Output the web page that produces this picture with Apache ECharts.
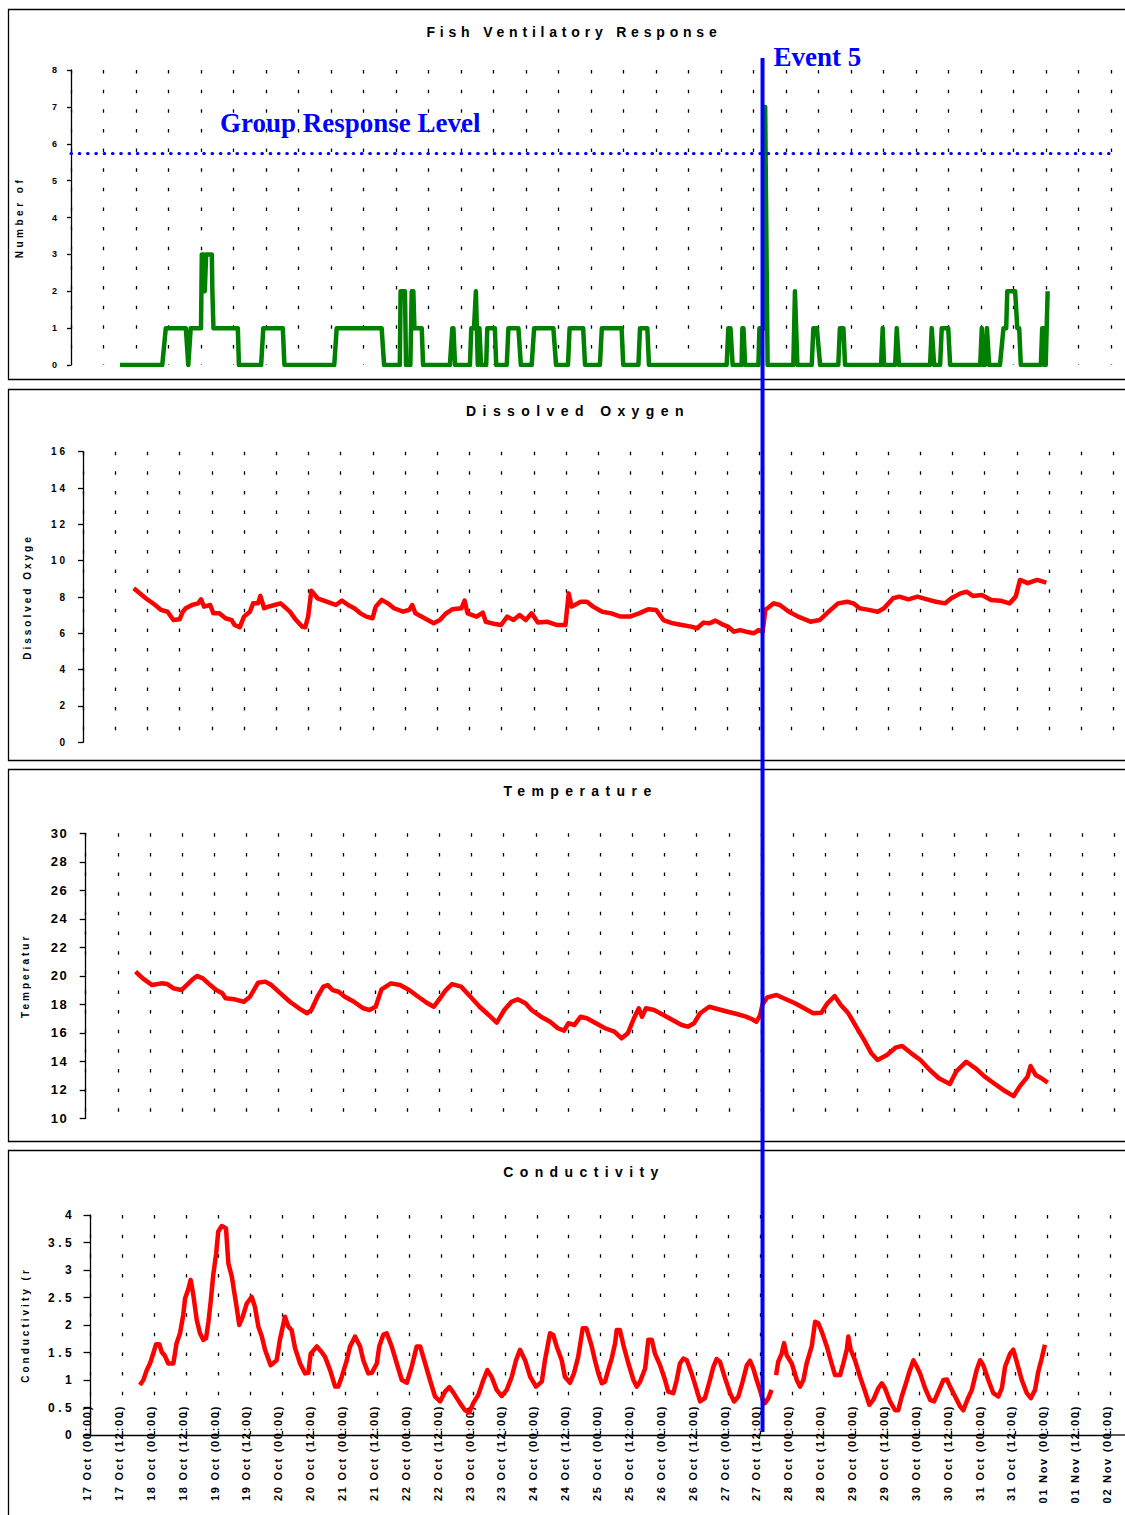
<!DOCTYPE html>
<html><head><meta charset="utf-8">
<script src="https://cdn.jsdelivr.net/npm/echarts@6/dist/echarts.min.js"></script>
<style>html,body{margin:0;padding:0;background:#fff;}#chart{width:1125px;height:1515px;}</style>
</head><body><div id="chart"></div>
<script>
// ---------------- DATA ----------------
const tickLabels = ['17 Oct (00:00)','17 Oct (12:00)','18 Oct (00:00)','18 Oct (12:00)','19 Oct (00:00)','19 Oct (12:00)',
 '20 Oct (00:00)','20 Oct (12:00)','21 Oct (00:00)','21 Oct (12:00)','22 Oct (00:00)','22 Oct (12:00)',
 '23 Oct (00:00)','23 Oct (12:00)','24 Oct (00:00)','24 Oct (12:00)','25 Oct (00:00)','25 Oct (12:00)',
 '26 Oct (00:00)','26 Oct (12:00)','27 Oct (00:00)','27 Oct (12:00)','28 Oct (00:00)','28 Oct (12:00)',
 '29 Oct (00:00)','29 Oct (12:00)','30 Oct (00:00)','30 Oct (12:00)','31 Oct (00:00)','31 Oct (12:00)',
 '01 Nov (00:00)','01 Nov (12:00)','02 Nov (00:00)'];
const panelTitles = ['Fish Ventilatory Response','Dissolved Oxygen','Temperature','Conductivity'];
const yAxisNames = ['Number of','Dissolved Oxyge','Temperatur','Conductivity (r'];
const groupLabel = 'Group Response Level';
const eventLabel = 'Event 5';
const groupResponseLevel = 5.75;
const eventHour = 253;   // hours after 17 Oct 00:00

// [hours after 17 Oct 00:00, value]
const fishResponse = [[18.1,0],[33.7,0],[35.0,1],[42.4,1],[43.3,0],[44.2,1],[48.0,1],[48.3,3],[49.0,3],[49.4,2],[49.9,3],[52.0,3],[52.2,2],[52.6,1],[61.6,1],[62.0,0],[70.2,0],[71.0,1],[78.2,1],[78.8,0],[97.2,0],[98.1,1],[114.7,1],[115.6,0],[121.4,0],[121.7,2],[123.3,2],[123.7,0],[125.3,0],[125.8,2],[126.4,2],[126.8,1],[129.5,1],[130.0,0],[139.9,0],[140.8,1],[141.2,1],[141.8,0],[147.3,0],[147.8,1],[148.8,1],[149.5,2],[150.2,0],[150.8,1],[151.4,0],[153.3,0],[153.7,1],[156.5,1],[157.0,0],[160.9,0],[161.5,1],[165.2,1],[166.1,0],[170.1,0],[171.0,1],[178.1,1],[179.1,0],[183.5,0],[184.1,1],[189.1,1],[189.8,0],[195.3,0],[196.0,1],[203.3,1],[203.9,0],[209.5,0],[210.1,1],[212.8,1],[213.4,0],[242.1,0],[242.7,1],[243.5,1],[244.3,0],[247.6,0],[247.9,1],[248.3,1],[248.9,0],[253.8,0],[254.2,1],[255.8,1],[256.3,7],[257.2,0],[266.7,0],[267.3,2],[268.2,0],[273.5,0],[274.1,1],[275.4,1],[276.6,0],[283.3,0],[283.9,1],[285.2,1],[285.8,0],[299.1,0],[299.7,1],[300.2,0],[304.3,0],[304.9,1],[305.7,0],[317.2,0],[317.8,1],[318.7,0],[320.9,0],[321.5,1],[323.9,1],[324.6,0],[335.7,0],[336.3,1],[336.8,0],[337.5,0],[338.2,1],[339.0,0],[343.0,0],[344.3,1],[345.3,1],[345.7,2],[348.6,2],[349.4,1],[350.1,1],[350.7,0],[358.1,0],[358.6,1],[359.2,1],[359.5,0],[359.9,0],[360.6,2]];

const dissolvedOxygen = [[18.9,8.48],[23.4,7.93],[26.9,7.56],[29.1,7.29],[31.5,7.19],[33.7,6.73],[36.0,6.77],[37.2,7.19],[38.3,7.38],[40.6,7.56],[42.9,7.65],[44.0,7.87],[45.1,7.47],[47.4,7.56],[48.6,7.1],[50.8,7.1],[53.1,6.83],[55.4,6.73],[56.5,6.46],[58.4,6.33],[60.0,6.92],[62.2,7.19],[63.4,7.65],[65.2,7.65],[66.1,8.06],[67.5,7.38],[69.1,7.47],[71.4,7.56],[73.6,7.65],[74.8,7.5],[77.1,7.19],[79.4,6.73],[81.7,6.37],[82.8,6.33],[83.9,6.92],[85.1,8.35],[87.4,7.93],[90.8,7.74],[94.2,7.56],[96.5,7.8],[98.8,7.56],[101.1,7.38],[103.4,7.1],[105.6,6.92],[107.9,6.83],[109.1,7.47],[111.3,7.84],[113.6,7.65],[115.9,7.38],[119.3,7.19],[121.6,7.29],[122.7,7.56],[123.9,7.1],[127.3,6.83],[130.7,6.55],[133.0,6.73],[135.3,7.1],[137.6,7.32],[141.0,7.38],[142.2,7.8],[143.3,7.1],[146.7,6.92],[149.0,7.14],[150.1,6.64],[153.6,6.51],[155.8,6.46],[158.1,6.92],[160.4,6.73],[162.7,7.01],[165.0,6.73],[167.2,7.1],[169.5,6.59],[172.9,6.64],[176.4,6.46],[179.8,6.46],[181.0,8.2],[182.1,7.47],[185.5,7.74],[187.8,7.74],[190.1,7.47],[193.5,7.19],[196.9,7.1],[200.3,6.92],[203.8,6.92],[207.2,7.1],[210.6,7.32],[213.6,7.29],[216.3,6.73],[219.8,6.55],[223.2,6.46],[226.6,6.37],[228.9,6.28],[231.2,6.59],[233.4,6.55],[235.7,6.7],[238.0,6.51],[240.3,6.37],[242.6,6.09],[244.9,6.18],[247.1,6.09],[250.1,6.0],[251.7,6.18],[253.3,6.1],[254.3,7.3],[255.1,7.38],[257.4,7.65],[259.7,7.56],[263.1,7.19],[266.5,6.92],[271.1,6.64],[274.5,6.73],[277.9,7.19],[281.4,7.65],[284.8,7.74],[287.1,7.65],[289.4,7.38],[292.8,7.29],[296.2,7.19],[298.5,7.38],[301.9,7.93],[304.2,8.02],[307.6,7.87],[311.0,8.02],[314.5,7.87],[317.9,7.74],[321.3,7.65],[323.6,7.93],[327.0,8.2],[329.3,8.29],[331.6,8.06],[335.0,8.11],[338.4,7.84],[341.9,7.8],[345.3,7.65],[347.6,8.02],[349.2,8.94],[352.1,8.76],[355.6,8.94],[359.0,8.79]];

const temperature = [[18.6,20.29],[21.3,19.82],[24.8,19.35],[28.2,19.47],[30.5,19.42],[32.8,19.12],[35.7,19.0],[37.3,19.28],[39.6,19.7],[41.5,19.99],[43.7,19.82],[46.5,19.35],[48.7,19.0],[51.0,18.77],[52.2,18.42],[55.6,18.35],[59.0,18.18],[61.3,18.53],[64.3,19.51],[67.0,19.59],[69.3,19.35],[72.7,18.77],[76.2,18.18],[79.6,17.72],[82.6,17.37],[84.2,17.6],[86.5,18.53],[88.7,19.24],[90.3,19.35],[92.2,19.0],[94.4,18.88],[96.7,18.53],[100.1,18.18],[103.6,17.72],[105.9,17.6],[108.2,17.83],[110.4,19.05],[113.9,19.47],[117.3,19.35],[120.7,19.0],[124.1,18.53],[127.6,18.07],[129.9,17.83],[132.2,18.42],[134.4,19.0],[136.7,19.42],[140.1,19.24],[143.6,18.53],[147.0,17.83],[150.4,17.25],[153.4,16.71],[156.2,17.6],[158.9,18.18],[161.2,18.35],[164.1,18.07],[166.4,17.6],[169.9,17.13],[173.3,16.78],[176.2,16.32],[178.5,16.15],[180.1,16.67],[182.4,16.55],[184.7,17.13],[187.0,17.02],[190.4,16.67],[193.8,16.32],[197.3,16.08],[200.0,15.61],[202.3,15.96],[204.6,17.02],[206.4,17.72],[207.6,17.13],[209.1,17.72],[212.1,17.6],[215.6,17.25],[219.0,16.9],[222.4,16.55],[224.7,16.43],[227.0,16.67],[229.3,17.37],[232.7,17.83],[236.1,17.65],[239.6,17.48],[243.0,17.32],[246.4,17.13],[248.7,16.95],[250.3,16.78],[251.6,17.2],[252.6,18.0],[254.4,18.49],[257.8,18.65],[261.3,18.35],[264.7,18.07],[268.1,17.72],[271.5,17.37],[274.5,17.41],[276.8,18.07],[279.5,18.58],[281.8,17.95],[284.6,17.37],[287.5,16.43],[290.5,15.49],[293.2,14.56],[295.5,14.09],[299.0,14.44],[302.4,14.98],[304.7,15.07],[308.1,14.56],[311.5,14.09],[315.0,13.39],[318.4,12.81],[322.5,12.41],[324.8,13.27],[328.6,13.97],[332.1,13.51],[335.5,12.92],[338.9,12.46],[342.4,11.99],[346.3,11.56],[348.5,12.22],[351.5,12.92],[352.6,13.67],[354.5,13.04],[356.7,12.81],[359.0,12.5]];

const conductivity = [[18.6,0.91],[19.9,1.0],[21.2,1.18],[22.4,1.30],[23.4,1.45],[24.7,1.65],[25.9,1.65],[26.8,1.51],[28.0,1.44],[29.3,1.30],[31.2,1.30],[32.4,1.67],[33.7,1.85],[34.9,2.18],[35.6,2.48],[36.8,2.65],[37.7,2.82],[38.7,2.55],[40.0,2.09],[41.2,1.85],[42.5,1.73],[43.5,1.76],[44.4,2.06],[45.3,2.45],[46.2,2.91],[47.3,3.30],[48.1,3.70],[49.4,3.80],[51.0,3.76],[51.9,3.12],[53.2,2.88],[54.4,2.51],[55.0,2.33],[56.0,2.0],[57.3,2.15],[58.8,2.39],[60.7,2.51],[61.9,2.33],[63.2,1.97],[64.5,1.79],[65.7,1.55],[67.8,1.27],[70.1,1.36],[71.3,1.73],[73.2,2.15],[74.5,1.97],[75.7,1.91],[77.0,1.58],[78.9,1.30],[80.8,1.12],[82.0,1.13],[82.9,1.48],[85.2,1.61],[87.0,1.51],[88.3,1.42],[90.2,1.18],[92.1,0.88],[93.3,0.88],[94.6,1.06],[96.5,1.36],[97.7,1.61],[99.6,1.79],[101.5,1.61],[102.7,1.36],[104.6,1.12],[105.9,1.13],[107.8,1.30],[108.7,1.61],[110.2,1.82],[111.5,1.85],[113.4,1.61],[115.3,1.30],[117.2,1.0],[119.1,0.95],[120.9,1.24],[122.8,1.61],[124.1,1.61],[126.0,1.30],[127.8,1.0],[129.7,0.70],[131.6,0.61],[133.5,0.79],[135.1,0.87],[136.6,0.77],[139.1,0.58],[141.0,0.45],[142.6,0.41],[144.1,0.58],[146.0,0.73],[147.9,1.0],[149.4,1.18],[151.0,1.06],[152.9,0.82],[154.8,0.71],[156.7,0.82],[158.6,1.06],[160.2,1.36],[161.7,1.55],[163.6,1.36],[165.5,1.06],[167.7,0.88],[169.9,0.97],[171.1,1.36],[173.0,1.85],[174.2,1.82],[175.5,1.61],[177.4,1.36],[178.6,1.06],[180.5,0.95],[182.0,1.12],[183.6,1.42],[185.3,1.94],[186.7,1.94],[188.7,1.61],[189.9,1.36],[191.2,1.12],[192.5,0.94],[193.7,0.97],[194.9,1.18],[196.2,1.39],[197.5,1.67],[198.1,1.91],[199.3,1.91],[200.6,1.64],[202.5,1.30],[204.4,1.0],[205.6,0.88],[206.9,0.97],[208.8,1.21],[210.0,1.73],[211.3,1.73],[212.5,1.48],[214.4,1.27],[216.3,1.0],[217.5,0.79],[219.4,0.76],[220.7,1.0],[221.9,1.30],[223.2,1.39],[224.5,1.36],[226.3,1.12],[228.2,0.82],[229.5,0.61],[231.3,0.67],[233.2,1.0],[234.5,1.24],[235.7,1.38],[237.0,1.33],[238.9,1.03],[240.8,0.76],[242.3,0.61],[243.9,0.70],[245.5,0.97],[247.1,1.27],[248.3,1.35],[249.5,1.21],[250.8,1.0],[252.0,0.82],[253.0,0.65],[253.9,0.58],[255.2,0.67],[256.4,0.82],[257.2,null],[258.1,1.09],[258.9,1.33],[260.2,1.48],[261.1,1.67],[262.1,1.45],[264.0,1.30],[265.9,1.0],[267.1,0.88],[268.4,1.0],[269.6,1.30],[271.5,1.61],[272.8,2.06],[274.0,2.03],[275.3,1.88],[277.2,1.61],[279.0,1.30],[280.3,1.09],[282.2,1.09],[283.4,1.30],[284.7,1.55],[285.3,1.79],[286.2,1.55],[287.8,1.36],[289.7,1.06],[291.6,0.79],[293.2,0.55],[294.7,0.64],[296.6,0.85],[297.9,0.94],[299.1,0.85],[301.0,0.61],[302.9,0.45],[304.1,0.45],[305.4,0.70],[307.0,0.94],[308.3,1.15],[309.8,1.36],[311.1,1.24],[312.3,1.12],[314.2,0.85],[316.1,0.64],[317.6,0.61],[319.2,0.79],[321.1,1.0],[322.4,1.01],[323.6,0.88],[325.5,0.70],[327.4,0.52],[328.6,0.45],[330.1,0.64],[331.8,0.82],[333.6,1.18],[334.9,1.36],[336.1,1.27],[338.0,1.0],[339.9,0.76],[341.8,0.70],[343.1,0.85],[344.3,1.24],[346.2,1.48],[347.4,1.55],[348.7,1.33],[350.6,1.0],[352.5,0.76],[354.0,0.67],[355.6,0.82],[356.8,1.15],[358.1,1.39],[359.3,1.64]];

// ---------------- CHART ----------------
const SANS = "'Liberation Sans', Arial, Helvetica, sans-serif";
const SERIF = "'Liberation Serif', 'Times New Roman', serif";
const chart = echarts.init(document.getElementById('chart'), null, {renderer:'svg', width:1125, height:1515});

const grids = [
  {left:71, top:70, width:1040, height:295},
  {left:83, top:451.7, width:1030.4, height:290.6},
  {left:85.7, top:833.3, width:1029, height:285},
  {left:90.5, top:1215, width:1020, height:220}
].map(g => Object.assign(g, {containLabel:false, outerBoundsMode:'none', show:false}));

function xAx(i, showLabels){
  return {type:'value', gridIndex:i, min:0, max:384, interval:12,
    axisLine:{show:showLabels, onZero:false, lineStyle:{color:'#000', width:1.3}},
    axisTick:{show:false},
    axisLabel:{show:showLabels, rotate:90, margin:-30, fontFamily:SANS, fontWeight:'bold', fontSize:11, color:'#000',
      verticalAlign:'bottom', lineHeight:7,
      formatter: v => tickLabels[Math.round(v/12)] || ''},
    splitLine:{show:true, lineStyle:{color:'#000', width:1.3, type:[3.5,16.14]}}};
}
function yAx(i, min, max, interval, fontSize, margin, nameGap, tickLen){
  return {type:'value', gridIndex:i, min, max, interval,
    name: yAxisNames[i], nameLocation:'middle', nameGap, nameRotate:90,
    nameTextStyle:{fontFamily:SANS, fontWeight:'bold', fontSize:10, color:'#000'},
    axisLine:{show:true, onZero:false, lineStyle:{color:'#000', width:1.3}},
    axisTick:{show:true, length:tickLen, lineStyle:{color:'#000', width:1.3}},
    axisLabel:{fontFamily:SANS, fontWeight:'bold', fontSize, color:'#000', margin},
    splitLine:{show:false}};
}
function lineSeries(i, data, color, width){
  return {type:'line', xAxisIndex:i, yAxisIndex:i, data, symbol:'none', showSymbol:false, silent:true,
    connectNulls:false, lineStyle:{color, width, join:'round'}, itemStyle:{color}, z:3};
}

const fishSeries = lineSeries(0, fishResponse, '#008000', 4.5);
fishSeries.markLine = {silent:true, symbol:'none', label:{show:false}, animation:false,
  lineStyle:{color:'#0000FF', width:3.2, type:[0.5,7.8], cap:'round'},
  data:[{yAxis: groupResponseLevel}]};

chart.setOption({
  animation:false,
  backgroundColor:'#fff',
  grid: grids,
  xAxis:[xAx(0,false), xAx(1,false), xAx(2,false), xAx(3,true)],
  yAxis:[yAx(0,0,8,1,9,12,46.5,4), yAx(1,0,16,2,10,15,50.8,5), yAx(2,10,30,2,13,17.5,55,6), yAx(3,0,4,0.5,12,15.3,59.7,7)],
  series:[fishSeries,
    lineSeries(1, dissolvedOxygen, '#FF0000', 4.5),
    lineSeries(2, temperature, '#FF0000', 4.5),
    lineSeries(3, conductivity, '#FF0000', 4.5)]
});

const ex = chart.convertToPixel({xAxisIndex:3}, eventHour);
const gy = chart.convertToPixel({yAxisIndex:0}, groupResponseLevel);
const axEnd = chart.convertToPixel({xAxisIndex:3}, 384);
const axY = chart.convertToPixel({yAxisIndex:3}, 0);

const frame = (y, h) => ({type:'rect', z:0, shape:{x:8.5, y, width:1130, height:h}, style:{fill:'none', stroke:'#000', lineWidth:1.3}, silent:true});
const titleText = (t, x, y) => ({type:'text', z:5, x, y, style:{text:t, font:"bold 14px " + SANS, fill:'#000', textAlign:'center', textVerticalAlign:'middle'}, silent:true});

chart.setOption({
  graphic:[
    frame(9.5, 370), frame(389.5, 371), frame(769.5, 372), frame(1150.5, 420),
    titleText(panelTitles[0], 574, 31.5),
    titleText(panelTitles[1], 578, 411),
    titleText(panelTitles[2], 580.5, 791),
    titleText(panelTitles[3], 584, 1172),
    {type:'line', z:5, shape:{x1:axEnd, y1:axY, x2:1125, y2:axY}, style:{stroke:'#000', lineWidth:1.3}, silent:true},
    {type:'text', z:10, x:220, y:gy - 29.5, style:{text:groupLabel, font:"bold 27px " + SERIF, fill:'#0000FF', textAlign:'left', textVerticalAlign:'middle'}, silent:true},
    {type:'text', z:10, x:ex + 11, y:56.5, style:{text:eventLabel, font:"bold 27px " + SERIF, fill:'#0000FF', textAlign:'left', textVerticalAlign:'middle'}, silent:true},
    {type:'line', z:20, shape:{x1:ex, y1:58, x2:ex, y2:1432}, style:{stroke:'#0000FF', lineWidth:4}, silent:true}
  ]
});

// letter spacing, as in the original spreadsheet chart
function applySpacing(){
  document.querySelectorAll('#chart text').forEach(t => {
    const s = (t.textContent || '').trim();
    const fs = Math.round(parseFloat(getComputedStyle(t).fontSize));
    let ls = null;
    if (s === panelTitles[0]) ls = 4.8;
    else if (panelTitles.includes(s)) ls = 6.4;
    else if (s === yAxisNames[0]) ls = 3.5;
    else if (yAxisNames.includes(s)) ls = 3;
    else if (/Oct|Nov/.test(s)) ls = 1.7;
    else if (/^[0-9.]+$/.test(s)) ls = ({9:2, 10:3, 13:1.5, 12:3.5})[fs] ?? 2;
    if (ls !== null) t.setAttribute('letter-spacing', ls);
  });
}
chart.on('finished', applySpacing);
applySpacing();
setTimeout(applySpacing, 50);
setTimeout(applySpacing, 300);
</script></body></html>
